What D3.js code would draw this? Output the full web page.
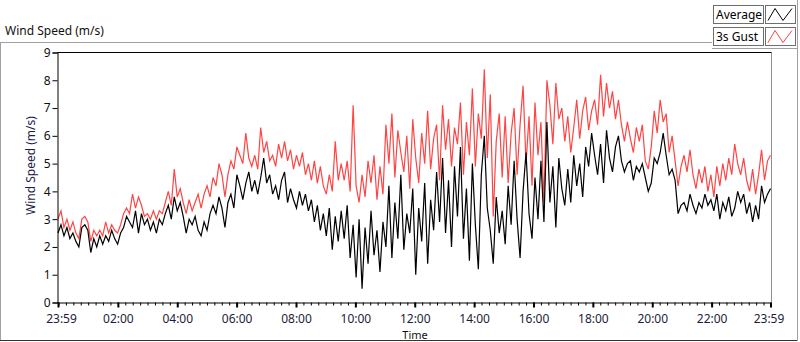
<!DOCTYPE html>
<html>
<head>
<meta charset="utf-8">
<script src="https://cdn.jsdelivr.net/npm/d3@7"></script>
<style>
  body { margin: 0; background: #fff; }
  svg { display: block; font-family: "Noto Sans", sans-serif; }
</style>
</head>
<body>
<svg id="chart" width="800" height="342"></svg>
<script>
// series, one sample every ~6 min from 23:59 to 23:59
const average = [
  2.5,2.8,2.4,2.7,2.3,2.5,2.2,2.0,2.7,2.8,2.6,1.8,2.3,2.0,2.4,2.1,2.4,2.2,2.6,2.3,2.1,2.5,2.7,3.1,
  2.9,2.7,3.3,2.5,3.2,2.8,3.0,2.6,2.9,2.5,3.0,2.8,3.2,3.5,3.0,3.8,3.3,3.6,3.1,2.5,3.0,2.8,3.1,2.6,
  2.4,2.9,2.6,3.2,3.5,3.2,3.8,3.4,2.7,3.6,3.9,3.4,4.6,4.2,3.7,4.3,4.7,4.0,4.4,3.9,4.5,5.2,4.3,4.6,
  3.9,4.2,3.7,4.4,4.7,3.6,4.1,3.7,3.4,4.0,3.5,3.9,3.3,3.7,2.9,3.5,2.6,3.2,2.4,3.4,1.9,3.1,2.2,3.3,
  2.3,3.5,1.6,2.8,0.9,3.0,0.5,2.7,1.4,3.3,1.7,2.6,1.1,2.9,2.0,4.2,1.6,3.6,2.3,4.6,1.9,3.2,2.5,4.1,
  1.0,3.4,2.2,4.3,1.4,3.7,2.6,4.7,2.9,5.2,2.5,4.4,2.0,4.9,3.1,5.6,2.3,4.1,1.5,5.0,2.8,1.2,4.6,6.0,
  3.4,2.6,1.4,3.8,2.5,3.3,2.1,4.2,2.8,5.1,3.0,1.6,4.0,5.4,3.2,2.3,4.5,3.0,5.1,2.9,6.5,3.6,4.9,2.7,
  5.2,4.1,3.5,4.8,3.6,5.3,4.2,5.0,3.8,5.6,4.9,6.1,5.3,4.6,5.7,4.3,6.2,5.2,4.7,5.6,6.0,5.1,4.7,5.0,
  5.1,4.4,4.9,4.7,5.0,4.5,4.0,4.3,5.2,5.0,5.4,6.1,5.3,4.6,4.8,4.4,3.2,3.5,3.6,3.3,3.9,3.5,3.2,3.6,
  3.4,3.9,3.5,3.7,3.3,3.9,3.0,3.6,3.3,3.8,3.1,3.4,4.0,3.6,3.9,3.2,3.6,2.9,3.5,3.0,4.2,3.6,3.9,4.1
];
const gust = [
  3.0,3.3,2.7,3.0,2.6,2.9,2.5,2.3,3.0,3.1,2.9,2.2,2.6,2.4,2.6,2.4,2.9,2.5,2.8,2.6,2.5,2.8,3.2,3.4,
  3.2,3.9,3.4,3.8,3.5,3.1,3.2,3.0,3.3,3.0,3.3,3.2,3.6,4.0,3.5,4.8,3.8,4.1,3.6,3.2,3.7,3.3,3.6,3.9,
  3.4,3.9,4.2,3.8,4.5,4.2,5.0,4.6,3.8,4.6,5.1,4.8,5.6,5.3,5.0,6.1,5.2,4.9,5.3,4.8,6.3,5.4,5.8,5.1,
  5.3,4.9,5.7,5.2,5.8,5.1,5.5,4.8,5.3,4.9,5.4,4.6,5.0,4.4,5.1,4.3,4.9,4.2,3.9,4.6,4.0,5.8,4.4,5.0,
  4.4,5.1,4.0,7.1,4.2,3.6,4.6,3.8,5.1,4.3,5.3,3.7,4.9,3.9,6.4,5.0,6.8,4.5,6.2,5.4,4.7,6.0,4.1,6.6,
  5.2,4.3,6.1,5.0,6.9,4.8,5.9,6.4,4.4,7.1,5.5,6.6,4.9,6.3,5.7,7.2,4.6,6.5,5.3,7.7,4.9,6.8,5.9,8.4,
  5.2,7.5,3.1,5.8,6.8,4.5,6.7,4.3,6.1,7.0,4.6,6.4,7.8,5.0,6.7,4.2,7.2,5.3,6.5,3.6,8.0,7.1,5.7,7.9,
  6.6,7.0,5.8,6.7,5.4,6.3,7.3,5.9,6.9,7.4,6.2,6.9,7.3,6.4,8.2,6.7,7.9,7.0,7.6,6.6,7.3,6.4,5.8,6.5,
  5.9,5.4,6.3,5.8,6.4,5.1,4.8,5.6,6.9,6.1,7.3,6.5,6.8,5.4,6.0,5.1,4.2,4.9,5.3,4.7,5.5,4.6,4.1,4.8,
  4.3,4.9,4.0,4.6,3.8,4.9,4.2,5.0,4.4,5.2,4.6,5.7,5.0,4.6,5.2,4.4,4.0,4.8,3.9,4.6,5.5,4.4,5.1,5.3
];
const yTicks = [0,1,2,3,4,5,6,7,8,9];
const xTickLabels = ["23:59","02:00","04:00","06:00","08:00","10:00","12:00","14:00","16:00","18:00","20:00","22:00","23:59"];
const seriesNames = ["Average", "3s Gust"];
const seriesColors = ["#000000", "#ff4444"];

const svg = d3.select("#chart");
const plotL = 57.5, plotR = 771.5, plotT = 52.5, plotB = 302.5;

const start = new Date(2020, 0, 1, 23, 59);
const end = new Date(2020, 0, 2, 23, 59);
const x = d3.scaleTime().domain([start, end]).range([plotL + 0.5, plotR - 1]);
const y = d3.scaleLinear().domain([0, 9]).range([plotB, plotT]);

// sample times, evenly spaced over the day
const step = (end - start) / (average.length - 1);
const timeAt = i => new Date(+start + i * step);

// outer frame
svg.append("line").attr("x1", 0).attr("x2", 712).attr("y1", 42.5).attr("y2", 42.5).attr("stroke", "#a0a0a0");
svg.append("line").attr("x1", 0.5).attr("x2", 0.5).attr("y1", 42).attr("y2", 341).attr("stroke", "#a0a0a0");
svg.append("line").attr("x1", 0).attr("x2", 798).attr("y1", 340.5).attr("y2", 340.5).attr("stroke", "#333");
svg.append("line").attr("x1", 797.5).attr("x2", 797.5).attr("y1", 0).attr("y2", 341).attr("stroke", "#a0a0a0");
svg.append("line").attr("x1", 712).attr("x2", 798).attr("y1", 48.5).attr("y2", 48.5).attr("stroke", "#a0a0a0");

svg.append("text").attr("x", 5).attr("y", 35).attr("font-size", 12).attr("fill", "#111")
  .text("Wind Speed (m/s)");

// plot area box
svg.append("rect").attr("x", plotL).attr("y", plotT).attr("width", plotR - plotL).attr("height", plotB - plotT)
  .attr("fill", "#fff").attr("stroke", "none");
svg.append("line").attr("x1", plotR).attr("x2", plotR).attr("y1", plotT).attr("y2", plotB).attr("stroke", "#909090");
svg.append("line").attr("x1", plotL).attr("x2", plotR).attr("y1", plotT).attr("y2", plotT).attr("stroke", "#000");

// series
const line = d3.line().x((d, i) => x(timeAt(i))).y(d => y(d));
[gust, average].forEach((s, k) => {
  svg.append("path").datum(s)
    .attr("fill", "none")
    .attr("stroke", k === 0 ? seriesColors[1] : seriesColors[0])
    .attr("stroke-width", 1.2)
    .attr("stroke-linejoin", "miter")
    .attr("d", line);
});

// y axis
const yAxis = svg.append("g").attr("transform", `translate(${plotL},0)`)
  .call(d3.axisLeft(y).tickValues(yTicks).tickSize(5).tickPadding(2).tickFormat(d3.format("d")));
yAxis.select(".domain").attr("stroke", "#000");
yAxis.selectAll("text").attr("font-size", 12).attr("fill", "#111").attr("font-family", "Noto Sans");

svg.append("text")
  .attr("transform", `translate(35,${(plotT + plotB) / 2 - 12}) rotate(-90)`)
  .attr("text-anchor", "middle").attr("font-size", 12).attr("fill", "#1d1d4a")
  .text("Wind Speed (m/s)");

// x axis: minor ticks every 15 minutes, labelled ticks every 2 hours (02:00 .. 22:00) plus both ends
const majorTimes = [start]
  .concat(d3.timeHour.every(2).range(d3.timeHour.offset(start, 1), d3.timeHour.offset(end, -1)))
  .concat([end]);
const minorTimes = d3.timeMinute.every(15).range(start, end);

svg.append("g").attr("transform", `translate(0,${plotB})`)
  .call(d3.axisBottom(x).tickValues(minorTimes).tickSize(3).tickFormat(""))
  .call(g => g.select(".domain").remove())
  .selectAll("line").attr("stroke", "#000");

const xAxis = svg.append("g").attr("transform", `translate(0,${plotB})`)
  .call(d3.axisBottom(x).tickValues(majorTimes).tickSize(5).tickPadding(7)
    .tickFormat((d, i) => xTickLabels[i]));
xAxis.select(".domain").attr("stroke", "#000").attr("d", `M${plotL},0.5H${plotR}`);
xAxis.selectAll(".tick line").attr("stroke", "#000").attr("stroke-width", 2);
xAxis.selectAll("text").attr("font-size", 12).attr("fill", "#1d1d3a").attr("font-family", "Noto Sans");
// end labels sit slightly inward, as in the reference
xAxis.selectAll("text").filter((d, i) => i === 0).attr("dx", 3);
xAxis.selectAll("text").filter((d, i, n) => i === n.length - 1).attr("dx", -2);

svg.append("text").attr("x", 415).attr("y", 338.5).attr("text-anchor", "middle")
  .attr("font-size", 11).attr("fill", "#111").text("Time");

// legend
const legend = svg.append("g");
seriesNames.forEach((name, i) => {
  const gy = 5.5 + i * 22;
  legend.append("rect").attr("x", 713.5).attr("y", gy).attr("width", 50).attr("height", 18)
    .attr("fill", "#fff").attr("stroke", "#6e6e6e");
  legend.append("text").attr("x", 716).attr("y", gy + 13.5).attr("font-size", 12).attr("fill", "#000").text(name);
  legend.append("rect").attr("x", 765.5).attr("y", gy).attr("width", 30).attr("height", 18)
    .attr("fill", "#fff").attr("stroke", "#6e6e6e");
  legend.append("path")
    .attr("d", `M768,${gy + 15}L775,${gy + 3}L783,${gy + 15}L792,${gy + 3}`)
    .attr("fill", "none").attr("stroke", seriesColors[i]).attr("stroke-width", 1);
});
</script>
</body>
</html>
